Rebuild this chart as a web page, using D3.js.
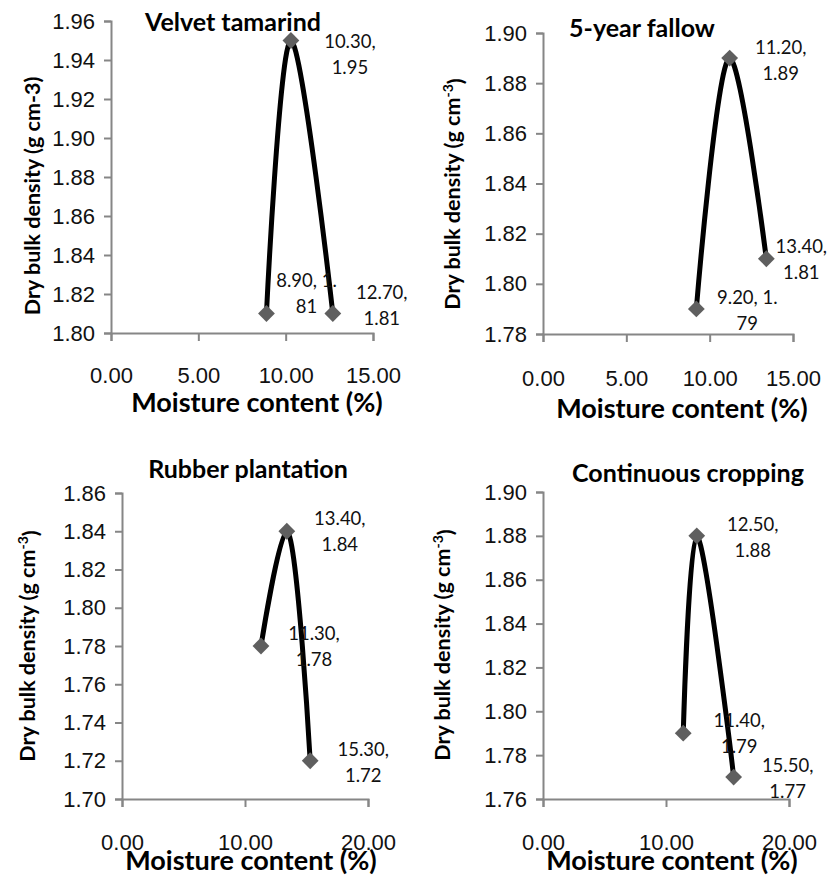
<!DOCTYPE html>
<html>
<head>
<meta charset="utf-8">
<script src="https://cdn.jsdelivr.net/npm/d3@7"></script>
<style>
  body { margin: 0; background: #fff; }
  svg { display: block; font-family: Lato, "Open Sans", sans-serif; }
</style>
</head>
<body>
<div id="chart"></div>
<script>
// Data, one entry per panel
var titles = ["Velvet tamarind", "5-year fallow", "Rubber plantation", "Continuous cropping"];
var moisture = [[8.9, 10.3, 12.7], [9.2, 11.2, 13.4], [11.3, 13.4, 15.3], [11.4, 12.5, 15.5]];
var density = [[1.81, 1.95, 1.81], [1.79, 1.89, 1.81], [1.78, 1.84, 1.72], [1.79, 1.88, 1.77]];
var x_ticks = [[0, 5, 10, 15], [0, 5, 10, 15], [0, 10, 20], [0, 10, 20]];
var y_ranges = [[1.80, 1.96], [1.78, 1.90], [1.70, 1.86], [1.76, 1.90]];
var label_text = [
    [["8.90, 1.", "81"], ["10.30,", "1.95"], ["12.70,", "1.81"]],
    [["9.20, 1.", "79"], ["11.20,", "1.89"], ["13.40,", "1.81"]],
    [["11.30,", "1.78"], ["13.40,", "1.84"], ["15.30,", "1.72"]],
    [["11.40,", "1.79"], ["12.50,", "1.88"], ["15.50,", "1.77"]]
];
var y_title_plain = [true, false, false, false]; // first panel has no superscript

// Layout of each panel (pixels)
var layout = [
    {left: 111, right: 373, top: 21, bottom: 333, xlab: 42, xt: [257, 403], tt: [233, 22], yt: [32, 196],
     lab: [[40, -33], [59, 1], [49, -21]]},
    {left: 543, right: 793, top: 33, bottom: 334, xlab: 44, xt: [682, 409], tt: [642, 28], yt: [452, 194],
     lab: [[51, -11], [51, -11], [35, -12]]},
    {left: 122, right: 368, top: 493, bottom: 799, xlab: 43, xt: [251, 861], tt: [248, 469], yt: [27, 646],
     lab: [[53, -12], [53, -13], [53, -11]]},
    {left: 543, right: 789, top: 492, bottom: 799, xlab: 43, xt: [672, 861], tt: [688, 473], yt: [442, 645],
     lab: [[56, -13], [56, -11], [54, -12]]}
];

var width = 829
var height = 877
var axis_color = "#868686"

var svg = d3.select("#chart")
    .append("svg")
    .attr("width", width)
    .attr("height", height)

titles.forEach(function(title, p) {
    var L = layout[p];
    var xt = x_ticks[p];

    var x_scale = d3.scaleLinear()
        .domain([xt[0], xt[xt.length - 1]])
        .range([L.left, L.right]);

    var y_scale = d3.scaleLinear()
        .domain(y_ranges[p])
        .range([L.bottom, L.top]);

    var y_vals = d3.range(y_ranges[p][0], y_ranges[p][1] + 0.001, 0.02);

    var g = svg.append("g");

    // Y axis
    var y_axis = g.append("g")
        .attr("transform", "translate(" + L.left + ",0)")
        .call(d3.axisLeft(y_scale).tickValues(y_vals).tickSize(7).tickPadding(9).tickFormat(d3.format(".2f")));

    // X axis
    var x_axis = g.append("g")
        .attr("transform", "translate(0," + L.bottom + ")")
        .call(d3.axisBottom(x_scale).tickValues(xt).tickSize(8).tickFormat(d3.format(".2f")));

    [y_axis, x_axis].forEach(function(a) {
        a.select(".domain").attr("stroke", axis_color).attr("stroke-width", 2);
        a.selectAll(".tick line").attr("stroke", axis_color).attr("stroke-width", 2);
        a.selectAll("text").style("font-size", "22px").attr("fill", "#111");
    });
    x_axis.selectAll("text").attr("y", L.xlab).attr("dy", "0.35em");

    // Smoothed line
    var pts = moisture[p].map(function(m, i) { return [m, density[p][i]]; });
    var line = d3.line()
        .x(function(d) { return x_scale(d[0]); })
        .y(function(d) { return y_scale(d[1]); })
        .curve(d3.curveCatmullRom.alpha(0.5));

    g.append("path")
        .datum(pts)
        .attr("d", line)
        .attr("fill", "none")
        .attr("stroke", "#000")
        .attr("stroke-width", 5);

    // Diamond markers
    g.selectAll(".marker")
        .data(pts)
        .enter()
        .append("path")
        .attr("d", d3.symbol().type(d3.symbolDiamond2).size(180))
        .attr("transform", function(d) {
            return "translate(" + x_scale(d[0]) + "," + y_scale(d[1]) + ")";
        })
        .attr("fill", "#5f5f5f");

    // Data labels
    pts.forEach(function(d, i) {
        var t = g.append("text")
            .attr("x", x_scale(d[0]) + L.lab[i][0])
            .attr("y", y_scale(d[1]) + L.lab[i][1])
            .attr("text-anchor", "middle")
            .style("font-size", "18.5px")
            .attr("fill", "#111");
        label_text[p][i].forEach(function(s, k) {
            t.append("tspan")
                .attr("x", x_scale(d[0]) + L.lab[i][0])
                .attr("dy", k == 0 ? "0.35em" : "26px")
                .text(s);
        });
    });

    // Titles
    g.append("text")
        .attr("x", L.tt[0])
        .attr("y", L.tt[1])
        .attr("dy", "0.35em")
        .attr("text-anchor", "middle")
        .style("font-size", "25px")
        .style("font-weight", "bold")
        .text(title);

    g.append("text")
        .attr("x", L.xt[0])
        .attr("y", L.xt[1])
        .attr("dy", "0.35em")
        .attr("text-anchor", "middle")
        .style("font-size", "27px")
        .style("font-weight", "bold")
        .text("Moisture content (%)");

    var yt = g.append("text")
        .attr("transform", "translate(" + L.yt[0] + "," + L.yt[1] + ") rotate(-90)")
        .attr("dy", "0.35em")
        .attr("text-anchor", "middle")
        .style("font-size", "21.5px")
        .style("font-weight", "bold");
    if (y_title_plain[p]) {
        yt.text("Dry bulk density (g cm-3)");
    } else {
        yt.append("tspan").text("Dry bulk density (g cm");
        yt.append("tspan").attr("dy", "-0.45em").style("font-size", "14px").text("-3");
        yt.append("tspan").attr("dy", "0.45em").text(")");
    }
});
</script>
</body>
</html>
